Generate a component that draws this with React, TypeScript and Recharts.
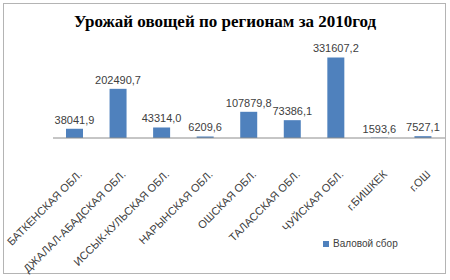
import { Bar, BarChart, LabelList, Legend, XAxis, YAxis } from 'recharts';

const REGIONS = [
  'БАТКЕНСКАЯ ОБЛ.',
  'ДЖАЛАЛ-АБАДСКАЯ ОБЛ.',
  'ИССЫК-КУЛЬСКАЯ ОБЛ.',
  'НАРЫНСКАЯ ОБЛ.',
  'ОШСКАЯ ОБЛ.',
  'ТАЛАССКАЯ ОБЛ.',
  'ЧУЙСКАЯ ОБЛ.',
  'г.БИШКЕК',
  'г.ОШ',
];

const HARVEST = [
  38041.9, 202490.7, 43314.0, 6209.6, 107879.8, 73386.1, 331607.2, 1593.6,
  7527.1,
];

const SERIES_NAME = 'Валовой сбор';
const TITLE = 'Урожай овощей по регионам за 2010год';

const data = REGIONS.map((name, i) => ({ name, value: HARVEST[i] }));

const BLUE = '#4f81bd';

function RegionTick({ x, y, payload }: any) {
  return (
    <text
      transform={`translate(${x + 8}, ${y + 29}) rotate(-45)`}
      textAnchor='end'
      fontSize={11}
      fontFamily='Liberation Sans, Arial, sans-serif'
      fill='#404040'
    >
      {payload.value}
    </text>
  );
}

function LegendBox() {
  return (
    <div
      style={{
        display: 'flex',
        alignItems: 'center',
        gap: 4,
        fontSize: 10,
        fontFamily: 'Liberation Sans, Arial, sans-serif',
        color: '#404040',
      }}
    >
      <span style={{ width: 6, height: 6, background: BLUE, display: 'inline-block' }} />
      <span>{SERIES_NAME}</span>
    </div>
  );
}

export default function App() {
  return (
    <div
      style={{
        position: 'absolute',
        left: 0,
        top: 0,
        width: 450,
        height: 280,
        background: '#fff',
      }}
    >
      <div
        style={{
          position: 'absolute',
          left: 3,
          top: 3,
          width: 441,
          height: 269,
          border: '1px solid #b4b4b4',
        }}
      />
      <div
        style={{
          position: 'absolute',
          left: 0,
          top: 12,
          width: 450,
          textAlign: 'center',
          fontFamily: 'Liberation Serif, Times New Roman, serif',
          fontWeight: 'bold',
          fontSize: 17,
          color: '#000',
        }}
      >
        {TITLE}
      </div>
      <div style={{ position: 'absolute', left: 0, top: 0 }}>
        <BarChart
          width={450}
          height={280}
          data={data}
          margin={{ top: 42, right: 5, bottom: 112, left: 53 }}
          barSize={17}
        >
          <XAxis
            dataKey='name'
            height={30}
            interval={0}
            tickLine={false}
            axisLine={{ stroke: '#8c8c8c' }}
            tick={<RegionTick />}
          />
          <YAxis hide domain={[0, 350000]} />
          <Legend
            verticalAlign='top'
            content={() => <LegendBox />}
            wrapperStyle={{ position: 'absolute', left: 323, top: 238, width: 100 }}
          />
          <Bar dataKey='value' name={SERIES_NAME} fill={BLUE} isAnimationActive={false}>
            <LabelList
              dataKey='value'
              position='top'
              offset={5}
              fontSize={11}
              fontFamily='Liberation Sans, Arial, sans-serif'
              fill='#404040'
              formatter={(v: number) => v.toFixed(1).replace('.', ',')}
            />
          </Bar>
        </BarChart>
      </div>
    </div>
  );
}
